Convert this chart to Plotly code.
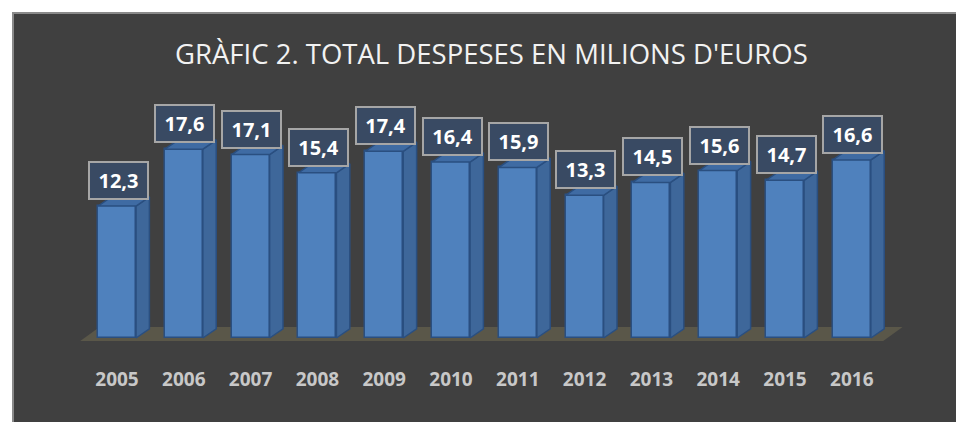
import plotly.graph_objects as go

years = ["2005", "2006", "2007", "2008", "2009", "2010", "2011", "2012", "2013", "2014", "2015", "2016"]
values = [12.3, 17.6, 17.1, 15.4, 17.4, 16.4, 15.9, 13.3, 14.5, 15.6, 14.7, 16.6]
labels = ["12,3", "17,6", "17,1", "15,4", "17,4", "16,4", "15,9", "13,3", "14,5", "15,6", "14,7", "16,6"]
title = "GRÀFIC 2. TOTAL DESPESES EN MILIONS D'EUROS"

W, H = 956, 422
BG = "#404040"
FRONT = "#4f81bd"
SIDE = "#3e679a"
TOP = "#3f6ba3"
EDGE = "#2a4f80"

bw = 0.57      # front width (x units)
dx = 0.2       # depth in x units
dy = 0.85      # depth in y units

xs = list(range(len(years)))
n = len(years)
fig = go.Figure()

# side faces and top faces
for x, v in zip(xs, values):
    r = x + bw / 2
    l = x - bw / 2
    fig.add_trace(go.Scatter(
        x=[r, r + dx, r + dx, r, r], y=[0, dy, v + dy, v, 0],
        fill="toself", fillcolor=SIDE, mode="lines",
        line=dict(color=EDGE, width=1.5), hoverinfo="skip", showlegend=False))
    fig.add_trace(go.Scatter(
        x=[l, r, r + dx, l + dx, l], y=[v, v, v + dy, v + dy, v],
        fill="toself", fillcolor=TOP, mode="lines",
        line=dict(color=EDGE, width=1.5), hoverinfo="skip", showlegend=False))

# front faces
fig.add_trace(go.Bar(
    x=xs, y=values, width=bw, marker=dict(color=FRONT, line=dict(color=EDGE, width=1.5)),
    hoverinfo="skip", showlegend=False))

# year labels
fig.add_trace(go.Scatter(
    x=xs, y=[-4.0] * n, mode="text", text=years,
    textfont=dict(family="Open Sans", size=19, color="#c8c8c8", weight="bold"),
    hoverinfo="skip", showlegend=False))

annotations = []
for x, v, t in zip(xs, values, labels):
    annotations.append(dict(
        x=x, y=v, xref="x", yref="y", text="<b>" + t + "</b>", showarrow=False,
        yanchor="bottom", yshift=6, xshift=1,
        font=dict(family="Open Sans", size=20, color="white"),
        bgcolor="#394a63", bordercolor="#a6a6a6", borderwidth=2,
        width=55, height=33, borderpad=1))

annotations.append(dict(
    x=492 / W, y=(H - 53) / H, xref="paper", yref="paper",
    text=title, showarrow=False, xanchor="center", yanchor="middle",
    font=dict(family="Open Sans", size=27.5, color="#f2f2f2")))

# floor (parallelogram under the bars)
fx0, fx1 = -0.55, n - 1 + 0.47
floor_path = "M {a},{b} L {c},{b} L {d},{e} L {f},{e} Z".format(
    a=fx0, b=-0.28, c=fx1, d=fx1 + 0.29, e=1.03, f=fx0 + 0.29)

shapes = [
    dict(type="path", xref="x", yref="y", path=floor_path, fillcolor="#5a5749",
         line=dict(width=0), layer="below"),
    # white page strips around the dark chart area
    dict(type="rect", xref="paper", yref="paper", x0=0, x1=12 / W, y0=0, y1=1,
         fillcolor="white", line=dict(width=0), layer="above"),
    dict(type="rect", xref="paper", yref="paper", x0=0, x1=1, y0=(H - 12) / H, y1=1,
         fillcolor="white", line=dict(width=0), layer="above"),
    # grey chart border
    dict(type="line", xref="paper", yref="paper", x0=13 / W, x1=13 / W, y0=0, y1=(H - 12) / H,
         line=dict(color="#8a8a8a", width=2), layer="above"),
    dict(type="line", xref="paper", yref="paper", x0=12 / W, x1=1, y0=(H - 13) / H, y1=(H - 13) / H,
         line=dict(color="#8a8a8a", width=2), layer="above"),
]

fig.update_layout(
    width=W, height=H,
    margin=dict(l=0, r=0, t=0, b=0),
    paper_bgcolor=BG, plot_bgcolor=BG,
    xaxis=dict(range=[-117 / 66.8, (W - 117) / 66.8], visible=False, fixedrange=True),
    yaxis=dict(range=[-(H - 338) / 10.73, 338 / 10.73], visible=False, fixedrange=True),
    annotations=annotations,
    bargap=0,
    shapes=shapes,
)

fig.write_html("out.html")
